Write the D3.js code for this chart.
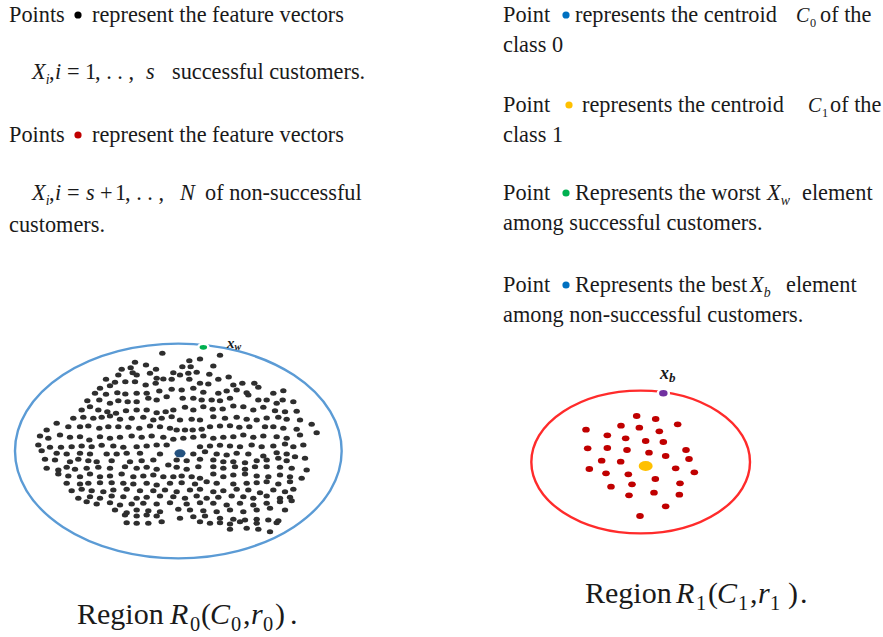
<!DOCTYPE html>
<html>
<head>
<meta charset="utf-8">
<script src="https://cdn.jsdelivr.net/npm/d3@7"></script>
<style>
  body { margin: 0; background: #fff; }
  svg { display: block; }
  text { font-family: "Liberation Serif", "Times New Roman", "DejaVu Serif", serif; fill: #1a1a1a; }
</style>
</head>
<body>
<svg id="chart" width="883" height="637"></svg>
<script>
// feature vectors of successful customers (class 0)
var successful = [
  [487,70],[660,76],[568,92],[600,87],[405,97],[438,105],[640,108],[392,113],[365,118],[468,118],[547,110],[572,110],
  [398,128],[410,135],[450,130],[520,128],[565,130],[590,127],[628,133],[686,141],[355,135],[318,148],[345,157],[376,155],[405,155],[470,145],[490,147],[515,148],[540,135],
  [300,175],[330,167],[437,165],[467,160],[568,148],[600,160],[625,162],[655,148],[727,160],[763,160],[775,172],[700,165],
  [285,190],[318,193],[352,188],[376,192],[410,190],[440,190],[478,183],[515,178],[545,180],[580,175],[610,187],[655,190],[680,183],[710,180],[740,188],[820,190],[850,182],
  [262,212],[298,210],[330,220],[355,212],[383,215],[410,215],[445,205],[470,210],[500,200],[548,205],[580,205],[605,210],[635,210],[660,212],[690,205],[745,195],[775,210],[800,210],[830,220],[848,210],[880,215],
  [245,240],[270,230],[295,240],[322,245],[348,250],[378,242],[410,240],[440,240],[470,248],[497,245],[520,240],[555,232],[580,240],[610,230],[638,238],[668,237],[700,228],[730,230],[760,240],[790,232],[825,242],[855,245],[890,244],
  [220,265],[250,262],[280,265],[305,262],[330,258],[360,268],[395,265],[430,262],[460,270],[485,265],[515,260],[540,270],[575,268],[600,270],[640,260],[675,265],[710,262],[740,268],[770,270],[800,264],[835,262],[860,268],[900,270],
  [140,300],[170,280],[205,290],[240,290],[265,288],[298,295],[325,290],[355,290],[385,292],[418,295],[450,288],[480,290],[510,295],[530,300],[555,300],[578,300],[605,298],[630,290],[660,288],[690,287],[718,292],[748,290],[795,290],[820,290],[850,295],[890,298],[935,283],[950,308],
  [120,318],[145,325],[180,315],[210,322],[240,320],[268,330],[300,320],[330,325],[360,322],[395,318],[425,322],[455,318],[490,322],[520,328],[550,325],[580,322],[610,318],[640,325],[670,322],[700,320],[730,315],[760,322],[790,318],[830,320],[860,325],[900,315],
  [115,345],[150,352],[183,352],[215,350],[245,348],[275,350],[305,346],[340,348],[370,352],[410,350],[440,348],[470,345],[500,345],[600,350],[630,348],[660,346],[690,348],[720,350],[755,345],[785,350],[820,348],[855,342],[880,350],[910,345],
  [125,362],[170,370],[200,372],[240,370],[270,372],[320,372],[350,372],[380,370],[420,370],[480,372],[580,372],[615,365],[650,372],[680,375],[710,370],[745,372],[790,378],[830,368],[860,372],[885,380],[915,385],
  [135,388],[165,390],[210,395],[235,388],[265,392],[290,395],[335,392],[390,395],[425,392],[460,390],[530,390],[560,392],[600,388],[640,390],[670,395],[700,395],[735,398],[770,392],[800,390],[835,385],[860,392],
  [140,415],[175,420],[200,412],[225,418],[260,415],[295,412],[330,415],[375,410],[410,415],[440,412],[470,418],[505,405],[530,412],[560,418],[595,410],[640,410],[670,415],[705,410],[735,418],[765,410],[800,410],[840,412],[875,415],[920,420],
  [175,432],[205,438],[240,440],[270,432],[300,440],[330,438],[365,432],[400,440],[430,438],[460,435],[490,440],[520,440],[545,438],[575,440],[600,445],[640,432],[670,440],[700,435],[735,432],[770,438],[805,440],[840,435],[870,440],[905,445],
  [200,460],[240,462],[265,460],[300,458],[335,458],[370,460],[400,462],[440,460],[470,465],[510,460],[545,458],[585,462],[620,455],[650,460],[700,462],[740,460],[770,458],[800,455],[835,462],[870,455],
  [215,482],[245,478],[275,482],[310,485],[340,480],[380,478],[420,482],[460,482],[495,480],[530,485],[570,480],[600,478],[640,485],[670,482],[710,478],[745,480],[780,488],[820,480],[855,485],[880,478],
  [235,505],[270,500],[300,505],[335,498],[370,500],[410,505],[440,502],[480,498],[520,500],[555,505],[590,498],[620,505],[655,502],[695,498],[730,500],[760,505],[800,498],[840,505],[870,502],
  [260,515],[290,522],[330,518],[360,525],[395,522],[430,520],[470,522],[510,518],[560,522],[600,518],[640,520],[680,525],[720,520],[760,525],[800,520],[840,515],[875,512],
  [345,540],[380,548],[410,540],[445,542],[480,545],[535,538],[570,540],[610,542],[650,545],[690,540],[730,545],[770,540],[810,535],
  [375,555],[410,558],[440,555],[470,558],[540,565],[580,560],[615,558],[660,565],[700,568],[735,570],[770,568],[805,570],[835,572],[855,540],
  [380,578],[410,580],[445,580],[485,575],[600,575],[630,580],[660,578],[690,582],[720,575],[770,580],[830,578],
  [690,598],[740,595],[775,598],[810,605]
];
var centroid0 = [540, 370];
var worst0 = [610, 52];
var region0 = { cx: 535, cy: 363, rx: 490, ry: 322 };

// feature vectors of non-successful customers (class 1)
var nonSuccessful = [
  [410,168],[467,177],[533,193],[363,197],[418,203],[258,209],[478,214],[322,226],[377,235],[437,243],[490,246],
  [263,265],[322,264],[381,270],[447,278],[558,270],[497,288],[567,297],[305,302],[362,305],[268,327],[527,325],
  [583,337],[318,340],[385,343],[466,357],[333,380],[396,373],[540,370],[387,406],[462,398],[538,404],[497,439],[420,468]
];
var centroid1 = [437, 318];
var best1 = [490, 100];
var region1 = { cx: 422, cy: 306, rx: 328, ry: 214 };

var svg = d3.select("#chart");

// panel scales (feature units -> page)
var x0 = d3.scaleLinear().domain([0, 1080]).range([0, 360]),
    y0 = d3.scaleLinear().domain([0, 720]).range([330, 570]);
var x1 = d3.scaleLinear().domain([0, 780]).range([500, 760]),
    y1 = d3.scaleLinear().domain([0, 540]).range([360, 540]);

function kx(s) { return (s.range()[1] - s.range()[0]) / (s.domain()[1] - s.domain()[0]); }

// ----- left panel -----
var g0 = svg.append("g");
g0.append("ellipse")
    .attr("cx", x0(region0.cx)).attr("cy", y0(region0.cy))
    .attr("rx", region0.rx * kx(x0)).attr("ry", region0.ry * kx(y0))
    .attr("fill", "none").attr("stroke", "#5b9bd5").attr("stroke-width", 2.4);

g0.selectAll(".pt")
    .data(successful)
  .enter().append("ellipse")
    .attr("class", "pt")
    .attr("cx", function(d) { return x0(d[0]); })
    .attr("cy", function(d) { return y0(d[1]); })
    .attr("rx", 3.2).attr("ry", 2.5)
    .attr("fill", "#2e2e2e");

g0.append("ellipse")
    .attr("cx", x0(centroid0[0])).attr("cy", y0(centroid0[1]))
    .attr("rx", 5.5).attr("ry", 4)
    .attr("fill", "#24527f");

g0.append("ellipse")
    .attr("cx", x0(worst0[0])).attr("cy", y0(worst0[1]))
    .attr("rx", 5).attr("ry", 3.6)
    .attr("fill", "#00b050").attr("stroke", "#fff").attr("stroke-width", 2.5);

var lw = g0.append("text").attr("x", 227).attr("y", 348)
    .style("font-size", "15px").style("font-weight", 700).style("font-style", "italic");
lw.append("tspan").text("x");
lw.append("tspan").attr("dy", 2).style("font-size", "10px").text("w");

// ----- right panel -----
var g1 = svg.append("g");
g1.append("ellipse")
    .attr("cx", x1(region1.cx)).attr("cy", y1(region1.cy))
    .attr("rx", region1.rx * kx(x1)).attr("ry", region1.ry * kx(y1))
    .attr("fill", "none").attr("stroke", "#ff2b2b").attr("stroke-width", 2.4);

g1.selectAll(".pt")
    .data(nonSuccessful)
  .enter().append("ellipse")
    .attr("class", "pt")
    .attr("cx", function(d) { return x1(d[0]); })
    .attr("cy", function(d) { return y1(d[1]); })
    .attr("rx", 3.8).attr("ry", 2.9)
    .attr("fill", "#c00000");

g1.append("ellipse")
    .attr("cx", x1(centroid1[0])).attr("cy", y1(centroid1[1]))
    .attr("rx", 7).attr("ry", 5)
    .attr("fill", "#ffc000");

g1.append("ellipse")
    .attr("cx", x1(best1[0])).attr("cy", y1(best1[1]))
    .attr("rx", 5.5).attr("ry", 4.5)
    .attr("fill", "#7030a0").attr("stroke", "#fff").attr("stroke-width", 2.5);

var lb = g1.append("text").attr("x", 660).attr("y", 379)
    .style("font-size", "18px").style("font-weight", 700).style("font-style", "italic");
lb.append("tspan").text("x");
lb.append("tspan").attr("dy", 3).style("font-size", "13px").text("b");

// ----- legend text -----
// segments: [text, x or null, style]  style: i = italic, s = subscript, m = smaller math
function line(x, y, size, segs, subK) {
  subK = subK || 0.62;
  var t = svg.append("text").attr("x", x).attr("y", y).style("font-size", size + "px");
  var sub = false;
  segs.forEach(function(s) {
    var sp = t.append("tspan").text(s[0]);
    if (s[1] != null) sp.attr("x", s[1]);
    var st = s[2] || "";
    if (st.indexOf("i") >= 0) sp.style("font-style", "italic");
    if (st.indexOf("m") >= 0) sp.style("font-size", (size * 0.9) + "px");
    if (st.indexOf("s") >= 0) {
      sp.style("font-size", (size * subK) + "px").attr("dy", sub ? 0 : size * 0.22);
      sub = true;
    } else if (sub) {
      sp.attr("dy", -size * 0.22);
      sub = false;
    }
  });
  return t;
}
function bullet(cx, cy, color) {
  svg.append("circle").attr("cx", cx).attr("cy", cy).attr("r", 3.6).attr("fill", color);
}

var fs = 22.3;
line(9, 22, fs, [["Points"], ["represent the feature vectors", 92]]);
bullet(78, 15, "#000000");
line(32, 79, fs, [["X", null, "i"], ["i", null, "is"], [",", 49], ["i", 55, "i"], ["=", 67], ["1", 85],
  [", . . ,", 95], ["s", 146, "i"], ["successful customers.", 172]]);
line(9, 142, fs, [["Points"], ["represent the feature vectors", 92]]);
bullet(78, 135, "#c00000");
line(32, 200, fs, [["X", null, "i"], ["i", null, "is"], [",", 49], ["i", 55, "i"], ["=", 67], ["s", 86, "i"],
  ["+", 100], ["1", 115], [", . . ,", 125], ["N", 180, "i"], ["of non-successful", 205]]);
line(9, 232, fs, [["customers."]]);

line(503, 22, fs, [["Point"], ["represents the centroid", 575], ["C", 796, "im"], ["0", 810, "s"], ["of the", 820]], 0.55);
bullet(566, 15, "#0070c0");
line(503, 52, fs, [["class 0"]]);
line(503, 112, fs, [["Point"], ["represents the centroid", 582], ["C", 808, "im"], ["1", 822, "s"], ["of the", 830]], 0.55);
bullet(569, 105, "#ffc000");
line(503, 142, fs, [["class 1"]]);
line(503, 200, fs, [["Point"], ["Represents the worst", 575], ["X", 767, "i"], ["w", null, "is"], ["element", 802]]);
bullet(566, 193, "#00b050");
line(503, 230, fs, [["among successful customers."]]);
line(503, 292, fs, [["Point"], ["Represents the best", 575], ["X", 750, "i"], ["b", null, "is"], ["element", 786]]);
bullet(566, 285, "#0070c0");
line(503, 322, fs, [["among non-successful customers."]]);

// captions
line(77, 624, 30, [["Region"], ["R", 170, "i"], ["0", 190, "s"], ["(", 201], ["C", 210, "i"], ["0", 231, "s"], [",", 243],
  ["r", 251, "i"], ["0", 263, "s"], [")", 275], [".", 290]], 0.68);
line(585, 603, 30, [["Region"], ["R", 676, "i"], ["1", 696, "s"], ["(", 708], ["C", 717, "i"], ["1", 738, "s"], [",", 750],
  ["r", 758, "i"], ["1", 770, "s"], [")", 788], [".", 800]], 0.68);
</script>
</body>
</html>
